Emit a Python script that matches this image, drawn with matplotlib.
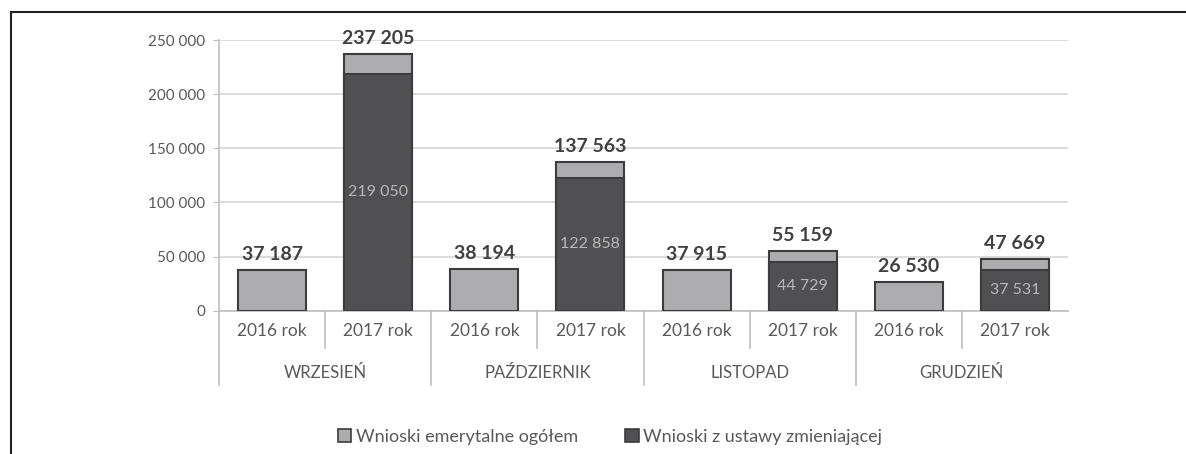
import matplotlib
matplotlib.use("Agg")
import matplotlib.pyplot as plt
import numpy as np
from matplotlib.patches import Patch
from matplotlib.lines import Line2D
import matplotlib.transforms as mtransforms

months = ['WRZESIEŃ', 'PAŹDZIERNIK', 'LISTOPAD', 'GRUDZIEŃ']
years = ['2016 rok', '2017 rok']
total_2016 = [37187, 38194, 37915, 26530]
total_2017 = [237205, 137563, 55159, 47669]
ustawa_2017 = [219050, 122858, 44729, 37531]
series_names = ['Wnioski emerytalne ogółem', 'Wnioski z ustawy zmieniającej']
yticks = [0, 50000, 100000, 150000, 200000, 250000]


def fmt(v):
    return f"{v:,}".replace(",", " ")


plt.rcParams['font.family'] = ['Lato', 'DejaVu Sans']

LIGHT = '#adadaf'
DARK = '#505052'
EDGE = '#3c3c3c'
TXT = '#595959'

W, H = 1186, 454
fig = plt.figure(figsize=(W / 100, H / 100), dpi=100)
ax = fig.add_axes([219 / W, 1 - 310.7 / H, (1068 - 219) / W, (310.7 - 40) / H])

n = len(months)
x2016 = np.arange(n) * 2
x2017 = np.arange(n) * 2 + 1
bw = 0.64

ax.bar(x2016, total_2016, width=bw, color=LIGHT, edgecolor=EDGE, linewidth=1.5, zorder=3)
ax.bar(x2017, total_2017, width=bw, color=LIGHT, edgecolor=EDGE, linewidth=1.5, zorder=3)
ax.bar(x2017, ustawa_2017, width=bw, color=DARK, edgecolor=EDGE, linewidth=1.5, zorder=4)

for xs, vals in ((x2016, total_2016), (x2017, total_2017)):
    for xv, v in zip(xs, vals):
        ax.annotate(fmt(v), (xv, v), xytext=(0, 5), textcoords='offset points',
                    ha='center', va='bottom', fontsize=14, fontweight='bold', color='#404040')
for xv, v in zip(x2017, ustawa_2017):
    ax.text(xv, v / 2, fmt(v), ha='center', va='center', fontsize=11.5, color='#b8b8b8', zorder=5)

ax.set_xlim(-0.5, 2 * n - 0.5)
ax.set_ylim(0, 250000)
ax.set_yticks(yticks)
ax.set_yticklabels([fmt(v) for v in yticks])
ax.tick_params(axis='y', length=4, color='#bfbfbf', labelsize=11, labelcolor=TXT, pad=6)
ax.grid(axis='y', color='#d9d9d9', linewidth=1.3, zorder=0)
ax.set_axisbelow(True)

allx = np.arange(2 * n)
ax.set_xticks(allx)
ax.set_xticklabels([years[i % 2] for i in allx])
ax.tick_params(axis='x', length=0, labelsize=12.5, labelcolor=TXT, pad=9)

for s in ['top', 'right']:
    ax.spines[s].set_visible(False)
ax.spines['left'].set_color('#bfbfbf')
ax.spines['bottom'].set_color('#bfbfbf')
ax.spines['left'].set_linewidth(1.2)
ax.spines['bottom'].set_linewidth(1.2)

trans = mtransforms.blended_transform_factory(ax.transData, ax.transAxes)
short_y = -(348 - 310.7) / 270.7
long_y = -(385 - 310.7) / 270.7
for b in np.arange(-0.5, 2 * n - 1, 1.0):
    is_long = (int(b + 0.5) % 2 == 0)
    ax.add_line(Line2D([b, b], [0, long_y if is_long else short_y], transform=trans,
                       color='#bfbfbf', linewidth=1.2, clip_on=False))
group_y = -(373 - 310.7) / 270.7
for i, m in enumerate(months):
    ax.text(2 * i + 0.5, group_y, m, transform=trans, ha='center', va='center',
            fontsize=12, color=TXT)

handles = [Patch(facecolor=LIGHT, edgecolor=EDGE, linewidth=1.2),
           Patch(facecolor=DARK, edgecolor=EDGE, linewidth=1.2)]
fig.legend(handles, series_names, loc='center', bbox_to_anchor=(610 / W, 1 - 437 / H),
           ncol=2, frameon=False, fontsize=13, labelcolor=TXT, handlelength=0.75,
           handleheight=0.75, handletextpad=0.25, columnspacing=2.6)

# outer frame (cut by the image edges)
fig.add_artist(Line2D([11 / W, 1.0], [1 - 12 / H, 1 - 12 / H], transform=fig.transFigure,
                      color='#222222', linewidth=1.5))
fig.add_artist(Line2D([11 / W, 11 / W], [1 - 12 / H, 0.0], transform=fig.transFigure,
                      color='#222222', linewidth=1.5))

fig.savefig('out.png', dpi=100)
